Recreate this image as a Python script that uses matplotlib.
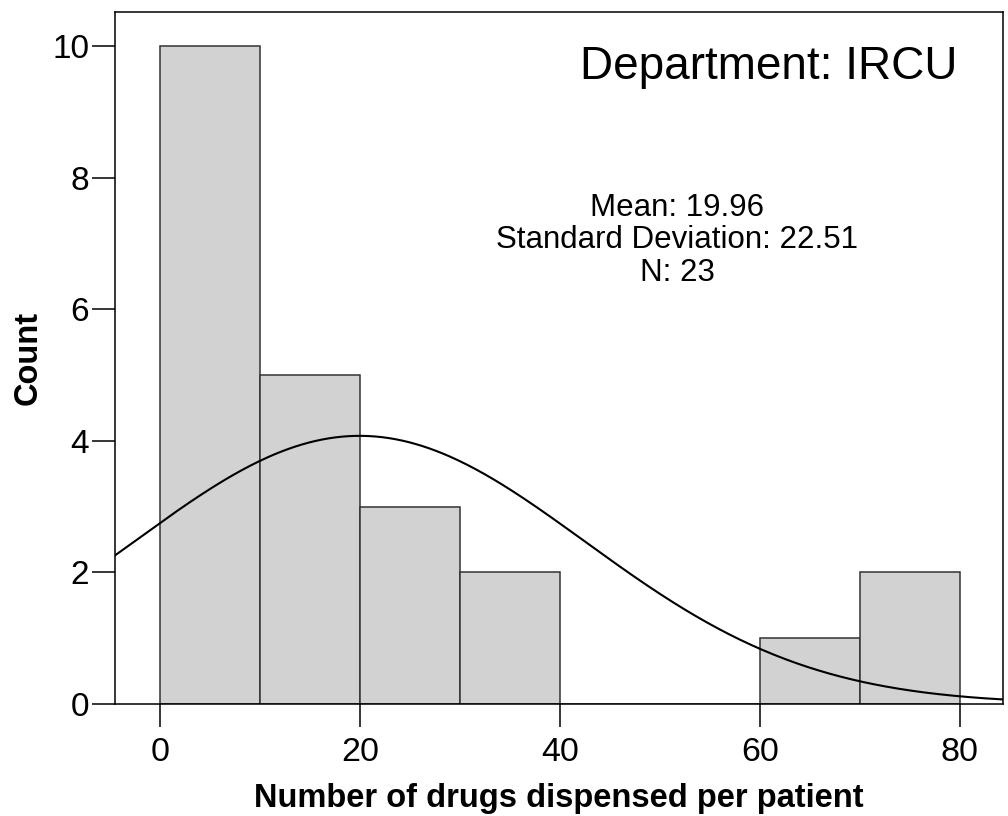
import numpy as np
import matplotlib
matplotlib.use("Agg")
import matplotlib.pyplot as plt

# Histogram bins (width 10) and patient counts
bin_edges = [0, 10, 20, 30, 40, 50, 60, 70, 80]
counts = [10, 5, 3, 2, 0, 0, 1, 2]

mean_val = 19.96
sd_val = 22.51
n_val = 23
department = "IRCU"

plt.rcParams["font.family"] = ["Liberation Sans", "DejaVu Sans"]

fig = plt.figure(figsize=(10.08, 8.16), dpi=100)
ax = fig.add_axes([0.1141, 0.1373, 0.8809, 0.848])

lefts = bin_edges[:-1]
widths = np.diff(bin_edges)
ax.bar(lefts, counts, width=widths, align="edge", color="#d2d2d2",
       edgecolor="#333333", linewidth=1.1, zorder=2)

# Normal curve scaled to the histogram
xlim = (-4.5, 84.3)
xs = np.linspace(xlim[0], xlim[1], 400)
bw = widths[0]
ys = n_val * bw / (sd_val * np.sqrt(2 * np.pi)) * np.exp(-0.5 * ((xs - mean_val) / sd_val) ** 2)
ax.plot(xs, ys, color="black", linewidth=1.5, zorder=3)

ax.set_xlim(*xlim)
ax.set_ylim(0, 10.52)
ax.set_xticks([0, 20, 40, 60, 80])
ax.set_yticks([0, 2, 4, 6, 8, 10])

for s in ax.spines.values():
    s.set_linewidth(1.1)
    s.set_color("black")
    s.set_zorder(4)

ax.tick_params(axis="y", length=16.5, width=1.1, labelsize=24, pad=2)
ax.tick_params(axis="x", length=16.5, width=1.1, labelsize=24.5, pad=7)

ax.set_xlabel("Number of drugs dispensed per patient", fontsize=23.5,
              fontweight="bold", labelpad=11)
ax.set_ylabel("Count", fontsize=23.5, fontweight="bold", labelpad=6)

ax.text(0.949, 0.92, f"Department: {department}", transform=ax.transAxes,
        fontsize=33, ha="right", va="center")
ax.text(0.633, 0.67,
        f"Mean: {mean_val:.2f}\nStandard Deviation: {sd_val:.2f}\nN: {n_val}",
        transform=ax.transAxes, fontsize=22.5, ha="center", va="center",
        linespacing=1.1)

fig.savefig("out.png", dpi=100)
plt.close(fig)
